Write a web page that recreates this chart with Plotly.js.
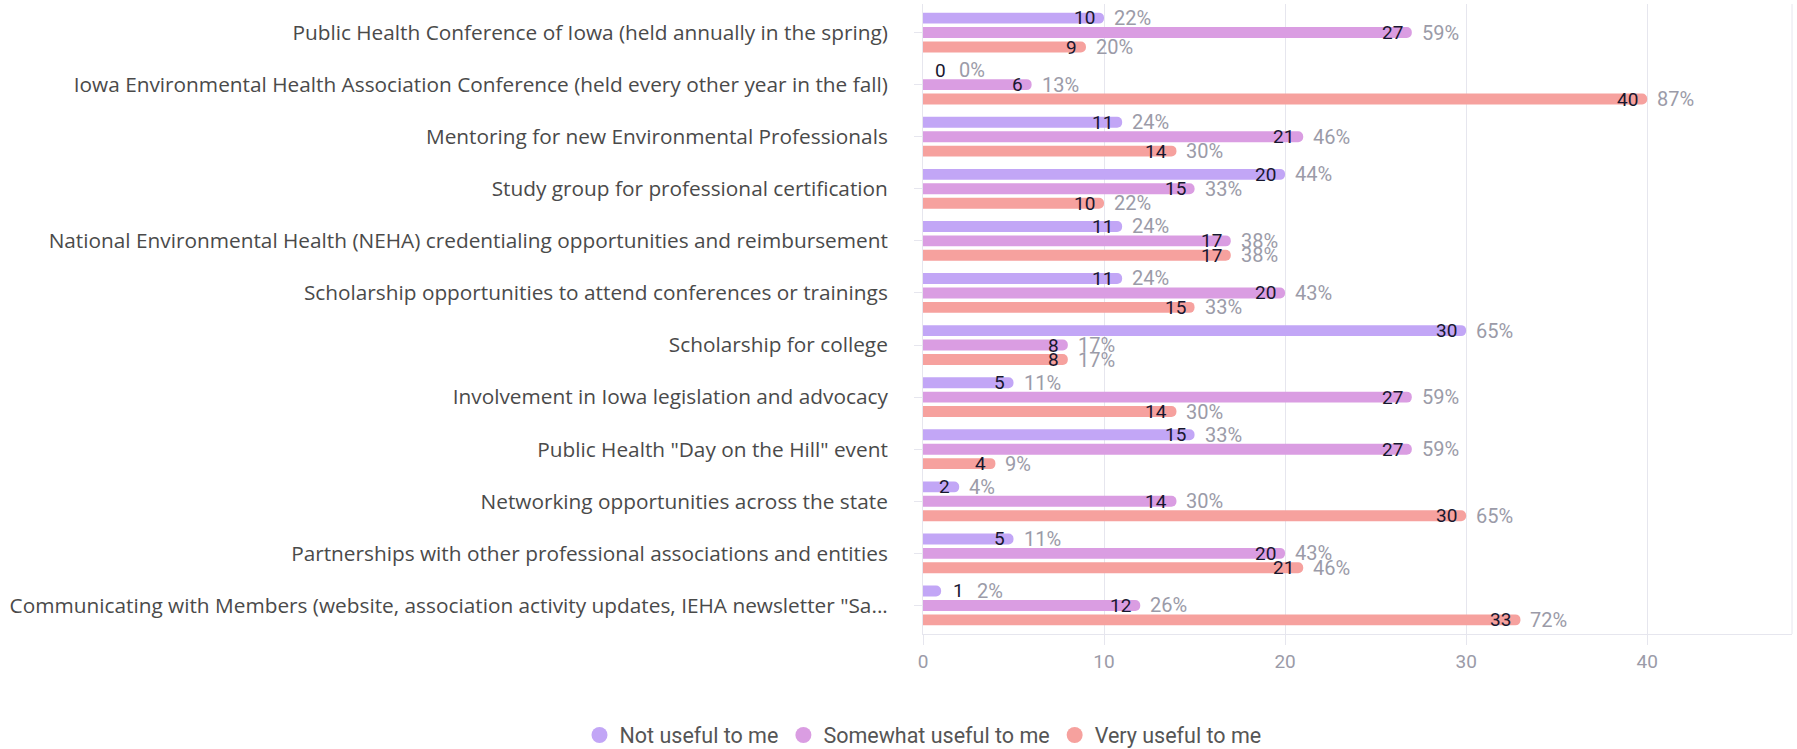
<!DOCTYPE html>
<html>
<head>
<meta charset="utf-8">
<script src="https://cdn.plot.ly/plotly-3.0.1.min.js"></script>
<style>html,body{margin:0;padding:0;background:#fff;}#chart{width:1797px;height:749px;}</style>
</head>
<body>
<div id="chart"></div>
<script>
const categories = [
  "Public Health Conference of Iowa (held annually in the spring)",
  "Iowa Environmental Health Association Conference (held every other year in the fall)",
  "Mentoring for new Environmental Professionals",
  "Study group for professional certification",
  "National Environmental Health (NEHA) credentialing opportunities and reimbursement",
  "Scholarship opportunities to attend conferences or trainings",
  "Scholarship for college",
  "Involvement in Iowa legislation and advocacy",
  "Public Health \"Day on the Hill\" event",
  "Networking opportunities across the state",
  "Partnerships with other professional associations and entities",
  "Communicating with Members (website, association activity updates, IEHA newsletter \"Sa..."
];
const seriesNames = ["Not useful to me", "Somewhat useful to me", "Very useful to me"];
const notUseful      = [10, 0, 11, 20, 11, 11, 30, 5, 15, 2, 5, 1];
const notUsefulPct   = [22, 0, 24, 44, 24, 24, 65, 11, 33, 4, 11, 2];
const somewhatUseful    = [27, 6, 21, 15, 17, 20, 8, 27, 27, 14, 20, 12];
const somewhatUsefulPct = [59, 13, 46, 33, 38, 43, 17, 59, 59, 30, 43, 26];
const veryUseful     = [9, 40, 14, 10, 17, 15, 8, 14, 4, 30, 21, 33];
const veryUsefulPct  = [20, 87, 30, 22, 38, 33, 17, 30, 9, 65, 46, 72];
const xTicks = [0, 10, 20, 30, 40];

const colors = ["#c2a6f6", "#da9de2", "#f6a19e"];
const values = [notUseful, somewhatUseful, veryUseful];
const pcts = [notUsefulPct, somewhatUsefulPct, veryUsefulPct];

const W = 1797, H = 749;
const margin = {l: 923, r: 5, t: 4, b: 115, autoexpand: false};
const bargap = 0.17, bargroupgap = 0.24;
const plotH = H - margin.t - margin.b;
const catH = plotH / categories.length;
const slot = catH * (1 - bargap) / 3;

const traces = [];
values.forEach((vals, k) => {
  traces.push({
    type: "bar", orientation: "h", name: seriesNames[k],
    x: vals, y: categories, showlegend: false,
    marker: {color: colors[k], cornerradius: 5},
    hoverinfo: "skip"
  });
});
// legend entries with circle markers
seriesNames.forEach((nm, k) => {
  traces.push({
    type: "scatter", mode: "markers", name: nm,
    x: [null], y: [null],
    marker: {color: colors[k], size: 17, symbol: "circle"},
    showlegend: true
  });
});

const annotations = [];
values.forEach((vals, k) => {
  const ys = (1 - k) * slot;
  vals.forEach((v, i) => {
    const outside = v < 2;
    annotations.push({
      x: v, y: categories[i], xref: "x", yref: "y",
      text: String(v), showarrow: false,
      xanchor: outside ? "left" : "right",
      xshift: outside ? 10 : -7, yshift: ys,
      font: {family: "Roboto, sans-serif", size: 19, color: "#18172f"}
    });
    annotations.push({
      x: v, y: categories[i], xref: "x", yref: "y",
      text: pcts[k][i] + "%", showarrow: false,
      xanchor: "left",
      xshift: outside ? 34 : 8, yshift: ys,
      font: {family: "Roboto, sans-serif", size: 20, color: "#9b9ba8"}
    });
  });
});

const layout = {
  width: W, height: H, margin: margin,
  paper_bgcolor: "#ffffff", plot_bgcolor: "#ffffff",
  barmode: "group", bargap: bargap, bargroupgap: bargroupgap,
  font: {family: "Open Sans, sans-serif", color: "#4a4a4a"},
  xaxis: {
    range: [0, 48], tickvals: xTicks, ticktext: xTicks.map(String),
    showgrid: true, gridcolor: "#e6e6ee", gridwidth: 1,
    zeroline: false, showline: true, linecolor: "#e6e6ee", linewidth: 1,
    ticks: "outside", ticklen: 10, tickcolor: "#e6e6ee",
    tickfont: {family: "Roboto, sans-serif", size: 19, color: "#9b9ba8"}
  },
  yaxis: {
    type: "category", autorange: "reversed",
    showgrid: false, zeroline: false, showline: true, linecolor: "#e6e6ee", linewidth: 1,
    ticks: "outside", ticklen: 8, tickcolor: "#e6e6ee",
    ticklabelstandoff: 22,
    tickfont: {family: "Open Sans, sans-serif", size: 20.8, color: "#4a4a4a"}
  },
  shapes: [{type: "line", xref: "paper", yref: "paper", x0: 1, x1: 1, y0: 0, y1: 1,
            line: {color: "#e6e6ee", width: 1}}],
  legend: {
    orientation: "h", x: 0, xanchor: "center", xref: "paper",
    y: -(735 - (H - margin.b)) / plotH, yanchor: "middle",
    font: {family: "Roboto, sans-serif", size: 21.5, color: "#555555"},
    itemwidth: 30
  },
  annotations: annotations,
  showlegend: true
};

Plotly.newPlot("chart", traces, layout, {staticPlot: true, displayModeBar: false});
</script>
</body>
</html>
